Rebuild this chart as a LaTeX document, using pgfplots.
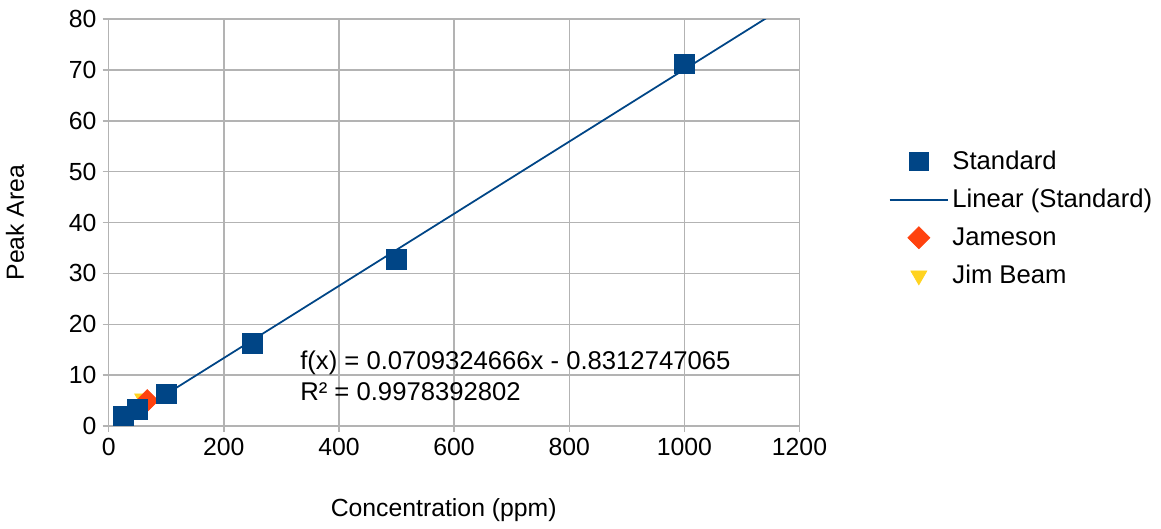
\documentclass[border=0pt]{standalone}
\usepackage{pgfplots}
\pgfplotsset{compat=1.18}
\usepackage{fontspec}
\setmainfont{Liberation Sans}

\definecolor{stdblue}{HTML}{004586}
\definecolor{jamred}{HTML}{FF420E}
\definecolor{jimyel}{HTML}{FFD320}
\definecolor{gridgray}{HTML}{B3B3B3}

\begin{document}
\begin{tikzpicture}
\begin{axis}[
    scale only axis,
    width=13.72cm, height=8.08cm,
    xmin=0, xmax=1200, ymin=0, ymax=80,
    xtick={0,200,...,1200}, ytick={0,10,...,80},
    grid=major,
    major grid style={gridgray, line width=0.8pt},
    axis line style={gridgray, line width=0.8pt},
    tick style={gridgray, line width=0.8pt},
    tick pos=left, tick align=outside,
    major tick length=0.12cm,
    clip=true,
    font=\fontsize{14}{17}\selectfont,
    /pgf/number format/assume math mode=true,
    /pgf/number format/1000 sep={},
    xlabel={Concentration (ppm)},
    ylabel={Peak Area},
    xlabel style={at={(axis description cs:0.485,-0.208)}, anchor=center},
    ylabel style={at={(axis description cs:-0.1356,0.5)}, anchor=center},
    legend style={at={(axis description cs:1.121,0.51)}, anchor=west,
        draw=none, fill=none, font=\fontsize{14.5}{17}\selectfont,
        row sep=0.2cm},
    legend cell align=left,
    legend image code/.code={\draw[mark repeat=2,mark phase=2] plot coordinates {(0cm,0cm) (0.58cm,0cm) (1.16cm,0cm)};},
]
% legend entries (drawn order differs from legend order)
\addlegendimage{only marks, mark=square*, mark size=5.2pt, color=stdblue}
\addlegendentry{Standard}
\addlegendimage{no marks, color=stdblue, line width=1pt}
\addlegendentry{Linear (Standard)}
\addlegendimage{only marks, mark=square*, mark options={rotate=45}, mark size=4.4pt, color=jamred}
\addlegendentry{Jameson}
\addlegendimage{only marks, mark=triangle*, mark options={rotate=180}, mark size=5.2pt, color=jimyel}
\addlegendentry{Jim Beam}
% Jim Beam
\addplot[forget plot, only marks, mark=triangle*, mark options={rotate=180}, mark size=5.2pt, color=jimyel] coordinates {
(59,5.4)
};
% Jameson
\addplot[forget plot, only marks, mark=square*, mark options={rotate=45}, mark size=4.4pt, color=jamred] coordinates {
(67,5.0)
};
% Linear trend
\addplot[forget plot, no marks, color=stdblue, line width=1pt] coordinates {
(0,-0.831) (1200,84.288)
};
% Standard
\addplot[forget plot, only marks, mark=square*, mark size=5.6pt, color=stdblue] coordinates {
(25,2.0) (50,3.2) (100,6.3) (250,16.2) (500,32.7) (1000,71.2)
};
\node[anchor=west, align=left, font=\fontsize{14.5}{17.5}\selectfont] at (axis cs:322,9.8)
  {f(x) = 0.0709324666x - 0.8312747065\\R² = 0.9978392802};
\end{axis}
\path (current axis.north west) ++(0,0.38cm);
\path (current axis.south west) ++(0,-2.04cm);
\end{tikzpicture}
\end{document}
